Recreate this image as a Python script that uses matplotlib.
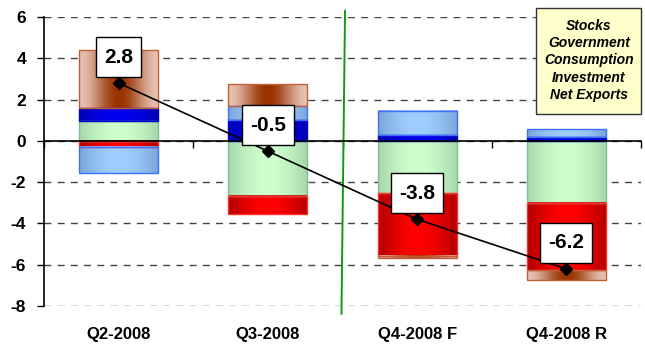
import matplotlib
matplotlib.use("Agg")
import matplotlib.pyplot as plt
import matplotlib.transforms as mtransforms
from matplotlib.colors import to_rgb
from matplotlib.patches import Rectangle
import numpy as np

plt.rcParams["font.family"] = ["Liberation Sans", "DejaVu Sans"]

quarters = ["Q2-2008", "Q3-2008", "Q4-2008 F", "Q4-2008 R"]

# contributions to GDP growth, stacked in this order
consumption = [0.94, -2.66, -2.53, -3.00]
government = [0.67, 1.02, 0.26, 0.21]
investment = [-0.30, -0.88, -3.03, -3.28]
net_exports = [-1.27, 0.68, 1.19, 0.36]
stocks = [2.80, 1.05, -0.12, -0.45]
gdp_total = [2.8, -0.5, -3.8, -6.2]

legend_names = ["Stocks", "Government", "Consumption", "Investment", "Net Exports"]

# name, values, edge colour, centre colour, outline, profile exponent
series = [
    ("Consumption", consumption, "#a6d6aa", "#ccffcc", "#7fbf8f", 1.0),
    ("Government", government, "#0000b4", "#0000f0", "#0000cc", 1.0),
    ("Investment", investment, "#b00000", "#ff0000", "#ff3030", 1.0),
    ("Net Exports", net_exports, "#7aa6d6", "#9fcfff", "#3f6fff", 1.0),
    ("Stocks", stocks, "#e6c2b2", "#993300", "#c0603a", 2.0),
]


def gradient(edge, center, power, n=80):
    t = np.linspace(0, 1, n)
    w = np.sin(np.pi * t) ** power
    e = np.array(to_rgb(edge))
    c = np.array(to_rgb(center))
    row = e[None, :] * (1 - w[:, None]) + c[None, :] * w[:, None]
    return row[None, :, :]


fig = plt.figure(figsize=(6.45, 3.48), dpi=100)
ax = fig.add_axes([44 / 645, 42 / 348, 597 / 645, 289 / 348])

x = np.arange(len(quarters))
width = 0.53
pos_base = np.zeros(len(quarters))
neg_base = np.zeros(len(quarters))

for name, vals, edge, center, outline, power in series:
    vals = np.array(vals)
    bottoms = np.where(vals >= 0, pos_base, neg_base)
    bars = ax.bar(x, vals, width, bottom=bottoms, facecolor="none",
                  edgecolor=outline, linewidth=1.0, zorder=2)
    img = gradient(edge, center, power)
    for rect in bars:
        x0, y0 = rect.get_x(), rect.get_y()
        x1, y1 = x0 + rect.get_width(), y0 + rect.get_height()
        ax.imshow(img, extent=(x0, x1, min(y0, y1), max(y0, y1)),
                  aspect="auto", interpolation="bilinear", zorder=1.5)
    pos_base += np.where(vals >= 0, vals, 0)
    neg_base += np.where(vals < 0, vals, 0)

# GDP growth line
ax.plot(x, gdp_total, color="black", linewidth=1.2, marker="D",
        markersize=6, zorder=4)

ax.set_xlim(-0.5, 3.5)
ax.set_ylim(-8, 6)
ax.set_yticks(np.arange(-8, 7, 2))
ax.set_yticklabels([str(v) for v in range(-8, 7, 2)],
                   fontsize=12.5, fontweight="bold")
ax.tick_params(axis="y", length=5, width=1, pad=8, direction="out")

ax.set_xticks(np.arange(-0.5, 3.6, 1.0))
ax.set_xticklabels([])
ax.tick_params(axis="x", length=5, width=1, direction="out")

ax.set_axisbelow(True)
ax.yaxis.grid(True, color="#444444", linewidth=1.0, linestyle=(0, (5, 4.5)))

ax.spines["bottom"].set_position(("data", 0))
ax.spines["top"].set_visible(False)
ax.spines["right"].set_visible(False)
for s in ("left", "bottom"):
    ax.spines[s].set_linewidth(1.2)
    ax.spines[s].set_zorder(3)

trans = mtransforms.blended_transform_factory(ax.transData, ax.transAxes)
for xi, q in zip(x, quarters):
    ax.text(xi, -0.098, q, transform=trans, ha="center", va="center",
            fontsize=12, fontweight="bold")

# divider between actual and forecast quarters
ax.plot([1.517, 1.493], [6.3, -8.38], color="#129a12", linewidth=1.4,
        clip_on=False, zorder=3)

# value boxes above the line markers, sized in pixels
fig.canvas.draw()
renderer = fig.canvas.get_renderer()
box_h, gap, side_pad = 40, 6, 8
for xi, v in zip(x, gdp_total):
    px, py = ax.transData.transform((xi, v))
    cy = py + gap + box_h / 2
    t = fig.text(px, cy, f"{v:.1f}", transform=mtransforms.IdentityTransform(),
                 ha="center", va="center", fontsize=15, fontweight="bold",
                 zorder=6)
    tw = t.get_window_extent(renderer).width
    box_w = tw + 2 * side_pad
    fig.add_artist(Rectangle((px - box_w / 2, py + gap), box_w, box_h,
                             transform=mtransforms.IdentityTransform(),
                             facecolor="white", edgecolor="black",
                             linewidth=1.0, zorder=5))

# legend box
fig.patches.append(Rectangle((536 / 645, 1 - 114 / 348), 105 / 645, 106 / 348,
                             transform=fig.transFigure, facecolor="#ffffcc",
                             edgecolor="#333333", linewidth=1.0))
for i, name in enumerate(legend_names):
    fig.text(589 / 645, 1 - (26 + 17.2 * i) / 348, name, ha="center",
             va="center", fontsize=10, fontweight="bold", fontstyle="italic")

fig.savefig("out.png", dpi=100)
